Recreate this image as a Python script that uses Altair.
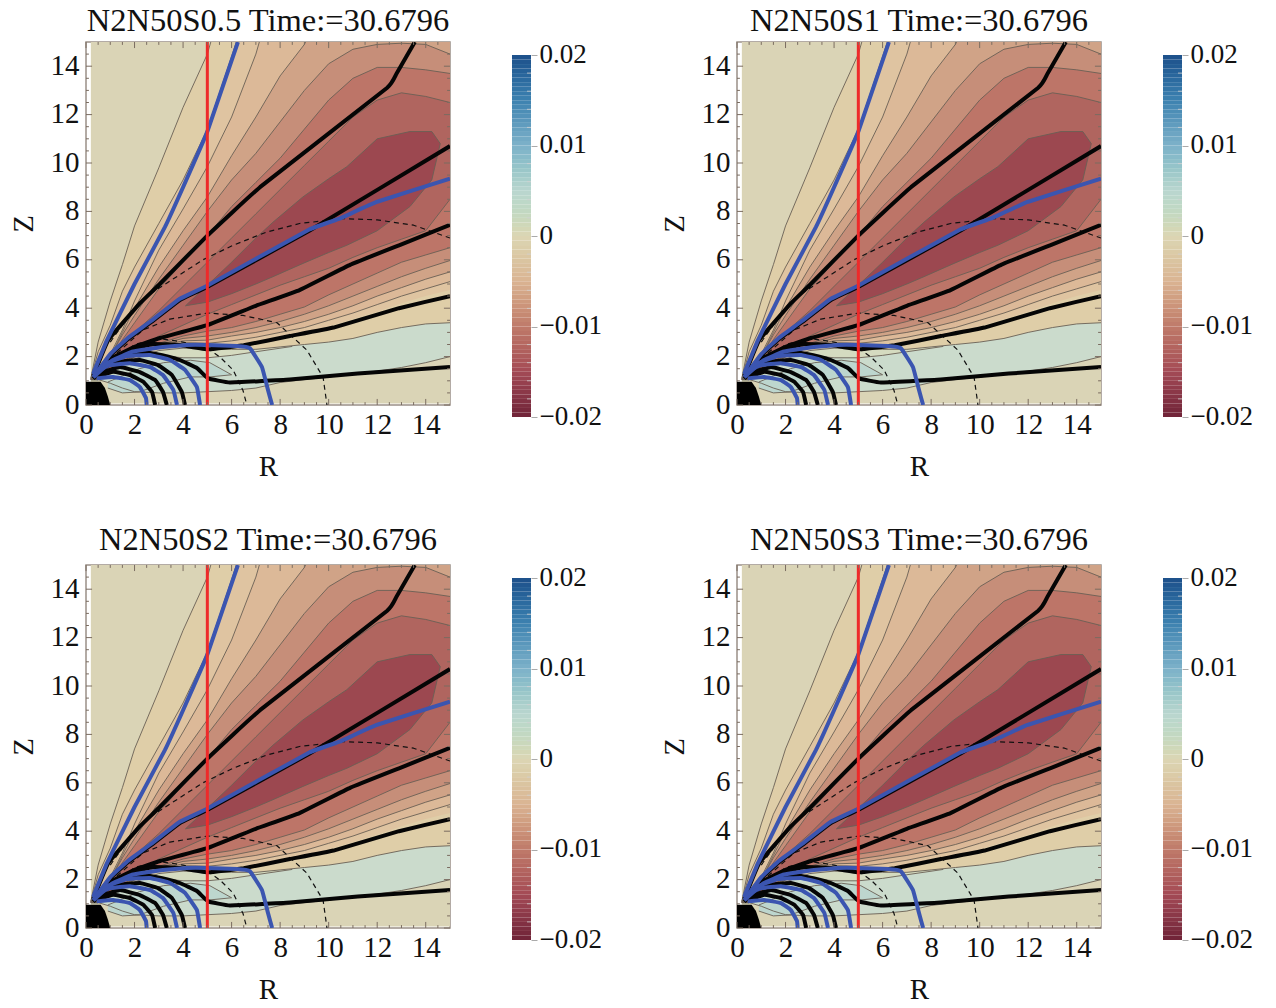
import altair as alt
import pandas as pd

TITLES = ["N2N50S0.5 Time:=30.6796", "N2N50S1 Time:=30.6796",
          "N2N50S2 Time:=30.6796", "N2N50S3 Time:=30.6796"]
FONT = "Liberation Serif"

# Contour bands, read on one R grid
R_GRID = [0.2, 0.5, 1, 1.5, 2, 3, 4, 5, 6, 7, 8, 9, 10, 11, 12, 13, 14, 15]
U1 = [1.1, 2.6, 4.3, 5.8, 7.4, 9.8, 12.3, 14.5, 18, 22, 26, 30, 34, 38, 42, 46, 50, 54]
UB = [1.1, 2.2, 3.3, 4.7, 5.7, 7.5, 9.3, 11.4, 14.4, 17.5, 21, 25, 29, 33, 37, 41, 45, 49]
U2 = [1.1, 1.4, 2.1, 3.1, 4.3, 6.4, 8.1, 9.85, 11.9, 14.5, 18, 22, 26, 30, 34, 38, 42, 46]
U3 = [1.1, 1.3, 2.0, 3.0, 4.0, 5.7, 7.2, 8.6, 10.3, 11.9, 13.6, 14.9, 17, 19, 21, 23, 25, 27]
U4 = [1.1, 1.2, 2.0, 2.9, 3.7, 5.2, 6.6, 8.0, 9.3, 10.4, 11.7, 13.0, 14.1, 14.7, 14.9, 14.95, 14.9, 14.5]
U5 = [1.1, 1.15, 1.9, 2.7, 3.4, 4.8, 5.9, 7.0, 8.2, 9.2, 10.2, 11.4, 12.6, 13.5, 13.95, 13.95, 13.85, 13.7]
U6 = [1.1, 1.1, 1.8, 2.5, 3.0, 3.9, 4.9, 5.9, 6.9, 7.9, 8.9, 9.9, 10.9, 11.9, 12.6, 12.9, 12.75, 12.5]
L6 = [1.05, 1.05, 1.5, 1.9, 2.25, 2.85, 3.3, 3.75, 4.15, 4.55, 4.95, 5.3, 5.65, 6.1, 6.5, 6.85, 7.2, 8.5]
L5 = [1.05, 1.05, 1.45, 1.8, 2.1, 2.55, 2.85, 3.05, 3.2, 3.45, 3.75, 4.05, 4.55, 5.0, 5.45, 5.9, 6.2, 6.5]
L4 = [1.05, 1.05, 1.42, 1.75, 2.05, 2.5, 2.75, 2.85, 3.0, 3.2, 3.45, 3.75, 4.1, 4.5, 4.9, 5.3, 5.65, 5.97]
L3 = [1.05, 1.05, 1.4, 1.72, 2.0, 2.45, 2.65, 2.68, 2.85, 3.0, 3.2, 3.45, 3.75, 4.1, 4.5, 4.85, 5.2, 5.5]
L2 = [1.05, 1.05, 1.38, 1.7, 1.98, 2.4, 2.58, 2.55, 2.65, 2.8, 3.0, 3.2, 3.5, 3.8, 4.15, 4.5, 4.8, 5.1]
LB = [1.05, 1.05, 1.36, 1.68, 1.95, 2.35, 2.5, 2.45, 2.5, 2.62, 2.8, 3.0, 3.25, 3.55, 3.85, 4.2, 4.5, 4.75]
L1 = [1.05, 1.05, 1.34, 1.65, 1.9, 2.25, 2.35, 2.3, 2.3, 2.3, 2.4, 2.5, 2.6, 2.75, 3.0, 3.2, 3.35, 3.4]
G_BOT = [1.05, 1.05, 0.9, 0.7, 0.55, 0.5, 0.5, 0.55, 0.6, 0.7, 0.93, 1.05, 1.15, 1.3, 1.4, 1.55, 1.75, 2.0]
BAND_COLORS = ["#DFCEA8", "#DFC4A1", "#DCB998", "#D0A387", "#C68E79", "#BD7568", "#B0655F"]

# Closed dark band
R_DARK = [4.1, 5, 6, 7, 7.7, 8.94, 10, 10.75, 12, 13.35, 14.25, 14.6]
U_DARK = [4.1, 4.95, 5.9, 6.9, 7.55, 8.6, 9.35, 9.85, 11.0, 11.3, 11.3, 10.8]
L_DARK = [4.1, 4.25, 4.6, 5.0, 5.3, 5.85, 6.3, 6.6, 7.2, 8.2, 9.3, 10.8]
DARK_COLOR = "#9C4850"

GREEN_COLOR = "#CBDBCC"
R_G2 = [0.9, 1.5, 2.2, 3.2, 4.3, 5.1, 6]
U_G2 = [0.95, 1.2, 1.5, 1.75, 1.85, 1.75, 1.25]
L_G2 = [0.7, 0.5, 0.54, 0.9, 1.16, 1.16, 1.25]
G2_COLOR = "#BDD6CE"
R_PALE = [2.5, 3, 4, 5, 6, 7, 8.5]
U_PALE = [2.1, 2.25, 2.35, 2.3, 2.3, 2.3, 2.42]
L_PALE = [2.1, 2.05, 1.95, 1.95, 2.05, 2.2, 2.42]
PALE_COLOR = "#D5DBC0"
BACKGROUND = "#DAD4B6"

# Thick lines
BLACK_LINES = [
    [(0.3, 1.2), (0.92, 2.69), (2.22, 4.2), (3, 4.96), (5, 7.0), (7.17, 9.0), (12.4, 13.1), (12.8, 13.7), (13.55, 15)],
    [(0.3, 1.15), (1, 2.05), (1.69, 2.69), (2.64, 3.39), (3.87, 4.34), (5.03, 4.9), (9.2, 7.2), (15, 10.7)],
    [(0.3, 1.1), (1, 1.9), (2, 2.4), (3.05, 2.77), (5, 3.3), (7, 4.1), (8.8, 4.75), (10.9, 5.8), (12.9, 6.6), (15, 7.44)],
    [(0.3, 1.1), (1.1, 1.8), (1.81, 2.27), (2.76, 2.52), (3.87, 2.48), (5.03, 2.3), (6.5, 2.47), (8.4, 2.85), (10.2, 3.2), (12.9, 4.0), (15, 4.5)],
    [(0.3, 1.15), (0.87, 1.75), (1.69, 2.15), (2.64, 2.15), (3.4, 2.0), (3.87, 1.86), (4.57, 1.53), (5.03, 1.1), (5.93, 0.93), (8.4, 1.05), (11.2, 1.3), (15, 1.57)],
    [(0.44, 1.4), (1.27, 1.78), (2.22, 1.86), (2.97, 1.65), (3.54, 1.24), (3.95, 0.54), (4.08, 0)],
    [(0.58, 1.32), (1.4, 1.57), (2.22, 1.36), (2.85, 1.03), (3.17, 0.54), (3.33, 0)],
    [(0.44, 1.15), (1.12, 1.37), (1.81, 1.24), (2.36, 0.96), (2.72, 0.54), (2.85, 0)],
]
BLUE_LINES = [
    [(0.3, 1.3), (0.87, 2.69), (2, 5.0), (3.25, 7.35), (4, 9.0), (5, 11.3), (6.26, 15)],
    [(0.3, 1.15), (1, 2.1), (1.69, 2.74), (2.64, 3.44), (3.87, 4.39), (5.03, 4.95), (9.2, 7.25), (10.45, 7.7), (12, 8.4), (15, 9.35)],
    [(0.3, 1.15), (1.1, 1.85), (1.9, 2.2), (2.5, 2.3), (3.17, 2.4), (4.16, 2.48), (5.03, 2.48), (6.2, 2.44), (6.75, 2.35), (7.25, 1.57), (7.5, 0.62), (7.67, 0)],
    [(0.29, 1.24), (0.87, 1.73), (1.69, 2.02), (2.64, 2.07), (3.46, 1.86), (4.08, 1.45), (4.57, 0.74), (4.7, 0)],
    [(0.44, 1.4), (1, 1.65), (1.81, 1.73), (2.64, 1.57), (3.17, 1.24), (3.6, 0.62), (3.75, 0)],
    [(0.44, 1.1), (1.12, 1.16), (1.81, 1.03), (2.22, 0.74), (2.47, 0.29), (2.5, 0)],
]
DASHED_LINES = [
    [(1.5, 2.1), (2, 2.5), (3, 2.75), (4, 2.6), (5, 2.35), (5.52, 1.98), (6.06, 1.45), (6.47, 0.6), (6.63, 0)],
    [(1, 1.9), (2.35, 3.1), (3.46, 3.55), (5, 3.8), (6.47, 3.7), (7.87, 3.4), (9.1, 2.27), (9.77, 1.15), (9.93, 0)],
    [(1, 2.6), (1.94, 3.93), (2.76, 4.67), (4.82, 6.0), (6.06, 6.6), (7.45, 7.15), (8.8, 7.5), (10.6, 7.7), (12, 7.65), (13.5, 7.43), (15, 6.9)],
]
RED_R = 5
ORIGIN_R = [0, 0.6, 0.78, 0.9, 1.0]
ORIGIN_Z = [0.96, 0.96, 0.7, 0.35, 0]

# Axes
MAJOR = [0, 2, 4, 6, 8, 10, 12, 14]
MINOR = [0.5, 1, 1.5, 2.5, 3, 3.5, 4.5, 5, 5.5, 6.5, 7, 7.5, 8.5, 9, 9.5, 10.5, 11, 11.5,
         12.5, 13, 13.5, 14.5]
CBAR_TICKS = [-0.02, -0.01, 0, 0.01, 0.02]
CBAR_MINOR = [-0.018, -0.016, -0.014, -0.012, -0.008, -0.006, -0.004, -0.002,
              0.002, 0.004, 0.006, 0.008, 0.012, 0.014, 0.016, 0.018]
CBAR_DOMAIN = [-0.02, -0.015, -0.01, -0.005, 0, 0.005, 0.01, 0.015, 0.02]
CBAR_COLORS = ["#6F2338", "#A34A55", "#BF7A6A", "#DAB493", "#DCD6B4", "#BAD6CF", "#7DB1C9", "#3D82B0", "#1D4F8A"]
CBAR_EDGES = [-0.02 + 0.0005 * i for i in range(81)]

TICK_COLOR = "#7a6c60"
FRAME_COLOR = "#9a9088"
THIN = "#6a6055"

xs = alt.Scale(domain=[0, 15], nice=False, zero=False)
ys = alt.Scale(domain=[0, 15], nice=False, zero=False)
axis_common = dict(values=MAJOR, grid=False, ticks=False, domain=False, labelFont=FONT, labelFontSize=29,
                   labelColor="#111", titleFont=FONT, titleFontSize=29, titleFontWeight="normal",
                   titleColor="#111", labelFlush=False, labelOverlap=False, format="d")
xax = alt.Axis(title="R", labelPadding=5, titlePadding=13, **axis_common)
yax = alt.Axis(title="Z", labelPadding=7, titlePadding=12, labelOffset=-1, **axis_common)


def X(f="r"):
    return alt.X(f"{f}:Q", scale=xs, axis=xax)


def Y(f="z"):
    return alt.Y(f"{f}:Q", scale=ys, axis=yax)


def band(r, top, bottom, color):
    d = pd.DataFrame({"r": r, "z": top, "z2": bottom})
    return alt.Chart(d).mark_area(color=color, clip=True, orient="vertical", interpolate="linear").encode(
        x=X(), y=Y(), y2=alt.Y2("z2:Q"))


def line(pts, color, width, dash=None):
    d = pd.DataFrame({"r": [p[0] for p in pts], "z": [p[1] for p in pts], "i": list(range(len(pts)))})
    kw = {"strokeDash": dash} if dash else {}
    return alt.Chart(d).mark_line(color=color, strokeWidth=width, clip=True, strokeJoin="round",
                                  interpolate="linear", **kw).encode(
        x=X(), y=Y(), order=alt.Order("i:Q"))


def smooth(pts, color, width):
    d = pd.DataFrame({"r": [p[0] for p in pts], "z": [p[1] for p in pts], "i": list(range(len(pts)))})
    return alt.Chart(d).mark_line(color=color, strokeWidth=width, clip=True, strokeJoin="round",
                                  interpolate="cardinal", tension=0.75).encode(
        x=X(), y=Y(), order=alt.Order("i:Q"))


def thin(r, z):
    return line(list(zip(r, z)), THIN, 0.9)


def ticks(values, size):
    parts = []
    for v in values:
        for lo, hi in ((0, size), (15 - size, 15)):
            parts.append({"a": v, "lo": lo, "hi": hi})
    d = pd.DataFrame(parts)
    horiz = alt.Chart(d).mark_rule(color=TICK_COLOR, strokeWidth=1).encode(
        x=alt.X("lo:Q", scale=xs, axis=xax), x2="hi:Q", y=alt.Y("a:Q", scale=ys, axis=yax))
    vert = alt.Chart(d).mark_rule(color=TICK_COLOR, strokeWidth=1).encode(
        y=alt.Y("lo:Q", scale=ys, axis=yax), y2="hi:Q", x=alt.X("a:Q", scale=xs, axis=xax))
    return [horiz, vert]


def field_layers():
    uppers = [U1, UB, U2, U3, U4, U5, U6]
    lowers = [L1, LB, L2, L3, L4, L5, L6]
    layers = [band([0.2, 15], [15, 15], [0.06, 0.06], BACKGROUND)]
    for u, l, c in zip(uppers, lowers, BAND_COLORS):
        layers.append(band(R_GRID, u, l, c))
    layers.append(band(R_DARK, U_DARK, L_DARK, DARK_COLOR))
    layers.append(band(R_GRID, L1, G_BOT, GREEN_COLOR))
    layers.append(band(R_PALE, U_PALE, L_PALE, PALE_COLOR))
    layers.append(band(R_G2, U_G2, L_G2, G2_COLOR))
    for z in [U1, UB, U2, U3, U4, U5, U6, L1, L2, L3, L4, L5, L6, G_BOT]:
        layers.append(thin(R_GRID, z))
    layers.append(thin(R_DARK, U_DARK))
    layers.append(thin(R_DARK, L_DARK))
    layers.append(thin(R_PALE, L_PALE))
    layers.append(thin(R_G2, U_G2))
    layers.append(thin(R_G2, L_G2))
    for pts in DASHED_LINES:
        layers.append(line(pts, "#111", 1.2, [5, 4]))
    for pts in BLACK_LINES:
        layers.append(smooth(pts, "#050505", 4))
    for pts in BLUE_LINES:
        layers.append(smooth(pts, "#3B55B0", 4))
    layers.append(line([(RED_R, 0), (RED_R, 15)], "#EE2A2A", 3))
    layers.append(band(ORIGIN_R, ORIGIN_Z, [0] * len(ORIGIN_R), "#000000"))
    layers += ticks(MAJOR, 0.25) + ticks(MINOR, 0.12)
    return alt.layer(*layers)


def colorbar():
    cs = alt.Scale(domain=CBAR_DOMAIN, range=CBAR_COLORS)
    yc = alt.Scale(domain=[-0.02, 0.02], range=[375, 13], nice=False, zero=False)
    label = "datum.value === 0 ? '0' : (datum.value < 0 ? '\u2212' : '') + format(abs(datum.value), '.2f')"
    axc = alt.Axis(orient="right", values=CBAR_TICKS, title=None, grid=False, domain=False, tickSize=6,
                   offset=81, tickColor="#aaa", labelFont=FONT, labelFontSize=27, labelColor="#111",
                   labelPadding=2, labelOffset=-1, labelExpr=label, labelOverlap=False, labelFlush=False)
    d = pd.DataFrame({"lo": CBAR_EDGES[:-1], "hi": CBAR_EDGES[1:]})
    d["mid"] = (d["lo"] + d["hi"]) / 2
    rect = alt.Chart(d).mark_rect().encode(
        x=alt.value(426), x2=alt.value(445),
        y=alt.Y("lo:Q", scale=yc, axis=axc), y2="hi:Q",
        color=alt.Color("mid:Q", scale=cs, legend=None))
    t = pd.DataFrame({"v": CBAR_MINOR})
    minor = alt.Chart(t).mark_rule(color="#cfcfcf", strokeWidth=0.8).encode(
        y=alt.Y("v:Q", scale=yc, axis=axc), x=alt.value(441), x2=alt.value(445))
    return alt.layer(rect, minor)


def panel(title, offset):
    return alt.layer(field_layers(), colorbar()).resolve_scale(
        y="independent", color="independent").resolve_axis(y="independent").properties(
        width=364, height=363,
        view=alt.ViewBackground(stroke=FRAME_COLOR, strokeWidth=1.5),
        title=alt.TitleParams(title, font=FONT, fontSize=32.5, fontWeight="normal", color="#111",
                              anchor="middle", offset=offset))


panels = [panel(TITLES[0], 3), panel(TITLES[1], 3), panel(TITLES[2], 7), panel(TITLES[3], 7)]
chart = alt.concat(*panels, columns=2, bounds="flush",
                   spacing=alt.RowColnumber(row=160, column=287)).properties(
    padding={"left": 0, "top": -5, "right": 0, "bottom": 0}, background="white").configure_view(stroke=None)

chart.save("out.html", embed_options={"renderer": "svg", "actions": False})
